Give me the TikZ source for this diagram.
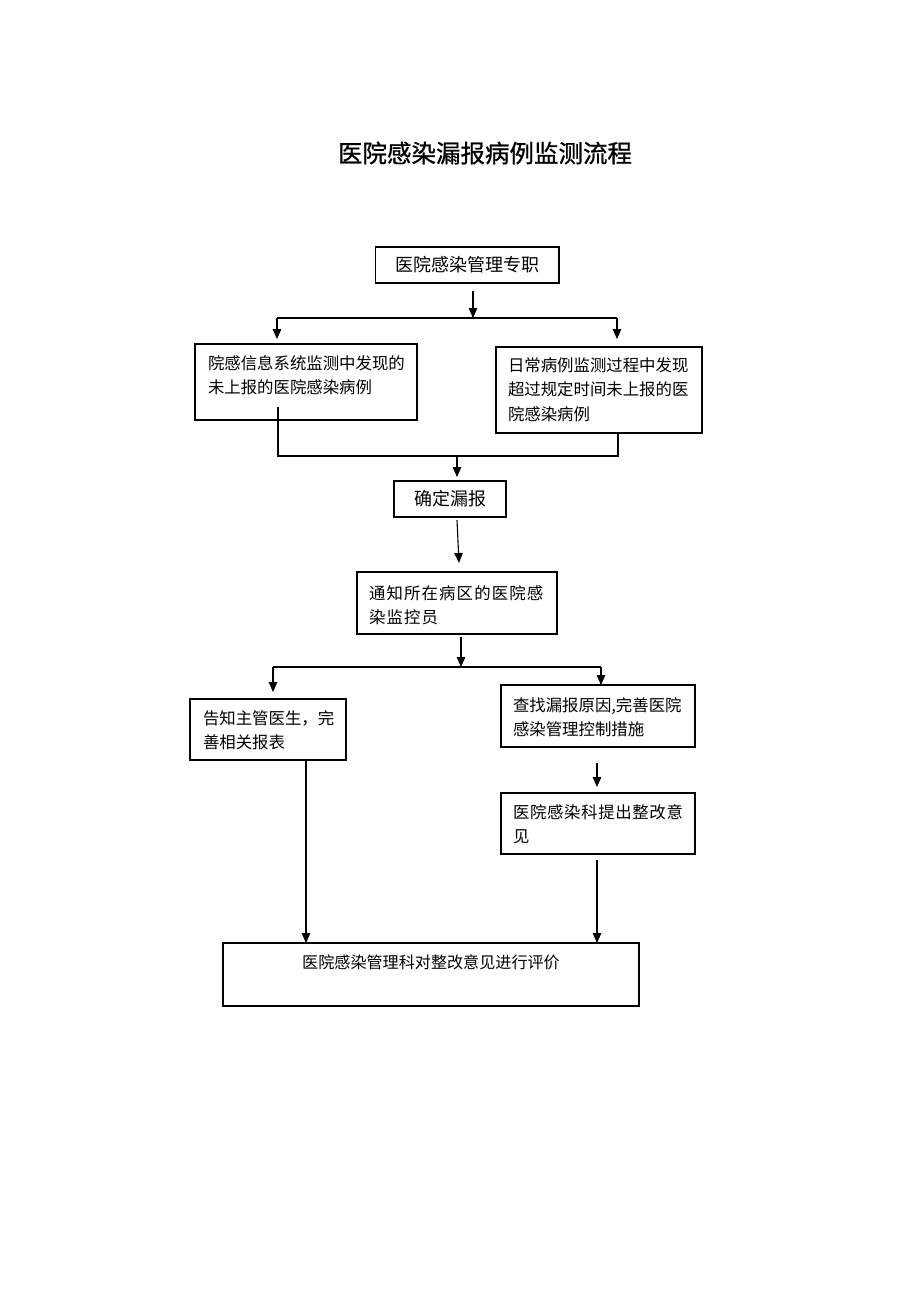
\documentclass[tikz,border=0pt]{standalone}
\usepackage{fontspec}
\setmainfont{Noto Sans CJK SC}
\newfontfamily\titlefont[FakeBold=0.9]{Noto Sans CJK SC}
\usetikzlibrary{arrows.meta,calc}
% height, width, left pad, top space, text
\newcommand{\btxt}[5]{\parbox[c][#1][t]{#2}{\fontsize{16.4pt}{24.5pt}\selectfont\leftskip=#3\relax\vspace*{#4}\strut #5}}
\tikzset{
  flowbox/.style={draw, line width=1.1pt, inner sep=0pt, outer sep=0pt, anchor=north west},
  cbox/.style={draw, line width=1.1pt, inner sep=0pt, outer sep=0pt, font=\fontsize{18pt}{22pt}\selectfont},
  ln/.style={line width=1.1pt},
  arr/.style={line width=1.1pt, -{Triangle[length=10pt,width=8.5pt]}},
}
\begin{document}
\begin{tikzpicture}[x=1pt,y=-1pt]
\fill[white] (0,0) rectangle (920,1302);
\useasboundingbox (0,0) rectangle (920,1302);

\node (title) at (485,153) {\titlefont\fontsize{24.5pt}{30pt}\selectfont 医院感染漏报病例监测流程};

\node[cbox, minimum width=183.5pt, minimum height=36pt] (b1) at (467.25,265) {医院感染管理专职};
\node[flowbox] (b2) at (195,344) {\btxt{76pt}{222pt}{13pt}{8pt}{院感信息系统监测中发现的\\未上报的医院感染病例}};
\node[flowbox] (b3) at (496,347) {\btxt{86pt}{206pt}{12pt}{7pt}{日常病例监测过程中发现\\超过规定时间未上报的医\\院感染病例}};
\node[cbox, minimum width=112pt, minimum height=36pt] (b4) at (450,499) {确定漏报};
\node[flowbox] (b5) at (357,572) {\btxt{62pt}{200pt}{12pt}{10pt}{\addfontfeature{LetterSpace=7}通知所在病区的医院感\\染监控员}};
\node[flowbox] (b6) at (190,699) {\btxt{61pt}{156pt}{13pt}{8pt}{告知主管医生，完\\善相关报表}};
\node[flowbox] (b7) at (501,685) {\btxt{62pt}{194pt}{12pt}{9pt}{查找漏报原因,完善医院\\感染管理控制措施}};
\node[flowbox] (b8) at (501,793) {\btxt{61pt}{194pt}{12pt}{8pt}{\addfontfeature{LetterSpace=4}医院感染科提出整改意\\见}};
\node[flowbox] (b9) at (223,943) {\parbox[c][63pt][t]{416pt}{\fontsize{16.1pt}{24pt}\selectfont\centering\vspace*{9pt}\strut 医院感染管理科对整改意见进行评价}};

% first split
\coordinate (j1) at (473,318);
\coordinate (s1l) at (277,318);
\coordinate (s1r) at (617,318);
\draw[arr] ($(b1.south -| j1)+(0,8)$) -- (j1);
\draw[ln] (s1l) -- (s1r);
\draw[arr, shorten >=5pt] (s1l) -- (s1l |- b2.north);
\draw[arr, shorten >=8pt] (s1r) -- (s1r |- b3.north);

% merge
\coordinate (ml) at (278,456);
\coordinate (mr) at (618,456);
\coordinate (m1) at (457,456);
\draw[ln] ($(b2.south -| ml)+(0,-13)$) -- (ml) -- (mr) -- (b3.south -| mr);
\draw[arr, shorten >=4pt] (m1) -- (m1 |- b4.north);

% b4 -> b5
\draw[arr] ($(b4.south)+(7,3)$) -- ($(b5.north)+(2,-9)$);

% second split
\coordinate (j2) at (461,667);
\coordinate (s2l) at (273,667);
\coordinate (s2r) at (601,667);
\draw[arr] ($(b5.south -| j2)+(0,3)$) -- (j2);
\draw[ln] (s2l) -- (s2r);
\draw[arr, shorten >=7pt] (s2l) -- (s2l |- b6.north);
\draw[arr] (s2r) -- (s2r |- b7.north);

% b7 -> b8
\draw[arr] ($(b7.south)+(-1,16)$) -- ($(b8.north)+(-1,-6)$);

% to b9
\coordinate (c6) at ($(b6.south)+(38,0)$);
\draw[arr] (c6) -- (c6 |- b9.north);
\coordinate (c8) at ($(b8.south)+(-1,6)$);
\draw[arr] (c8) -- (c8 |- b9.north);
\end{tikzpicture}
\end{document}
